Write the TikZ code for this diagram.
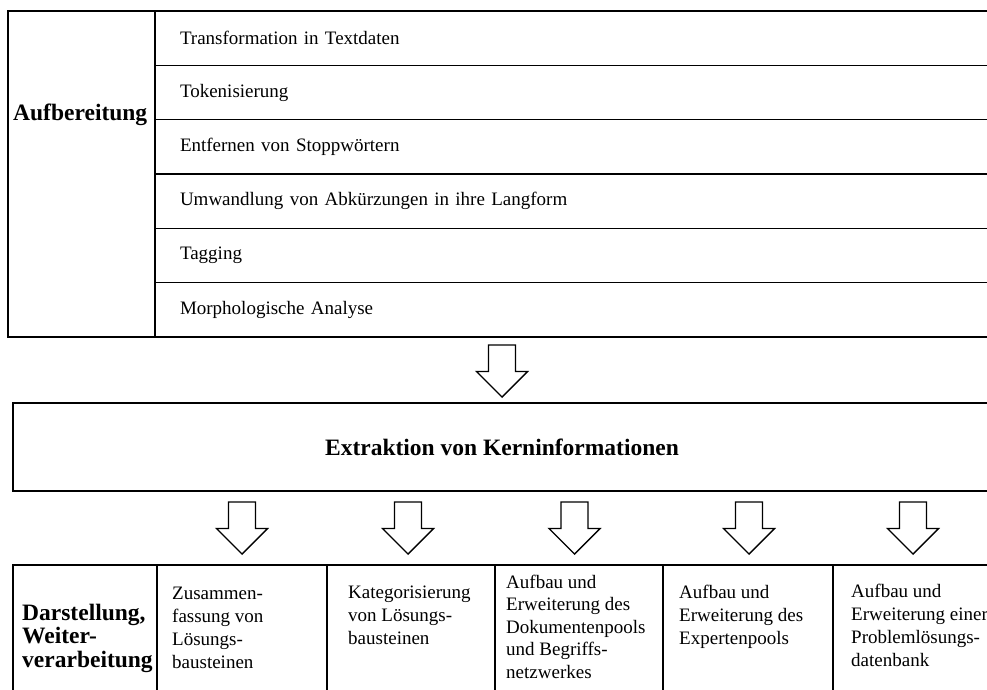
\documentclass[tikz,border=0pt]{standalone}
\usepackage{fontspec}
\setmainfont{Liberation Serif}
\usetikzlibrary{positioning}
\tikzset{
  frame/.style={draw, line width=1.4pt, inner sep=0pt, outer sep=0pt},
  rowbox/.style={frame, anchor=north west, minimum width=841pt, minimum height=54.33pt,
    text width=791pt, inner xsep=25pt, align=left, font=\fontsize{19}{23}\selectfont},
  colbox/.style={frame, minimum height=140pt},
  coltext/.style={anchor=base west, align=left, inner sep=0pt, font=\fontsize{19}{23}\selectfont},
  headtext/.style={inner sep=0pt, font=\fontsize{23.5}{23.5}\selectfont\bfseries},
  blockarrow/.style={draw, line width=1.4pt, fill=white, line join=miter},
}
\newcommand{\hollowarrow}[3]{% centre x, shaft top, tip
  \draw[blockarrow] (#1-13.5,#2) -- (#1+13.5,#2) -- (#1+13.5,#3-25.5) -- (#1+25.5,#3-25.5)
    -- (#1,#3) -- (#1-25.5,#3-25.5) -- (#1-13.5,#3-25.5) -- cycle;}

\begin{document}
\begin{tikzpicture}[x=1pt,y=-1pt]
  \useasboundingbox (0,0) rectangle (987,689);

  % preparation block
  \node[frame, anchor=north west, minimum width=147pt, minimum height=326pt] (prep) at (8,11) {};
  \node[headtext, anchor=base west] (preplabel) at (13,120) {Aufbereitung};
  \foreach \txt [count=\i] in {Transformation in Textdaten, Tokenisierung,
      Entfernen von Stoppwörtern, Umwandlung von Abkürzungen in ihre Langform,
      Tagging, Morphologische Analyse}
    \node[rowbox] (row\i) at (155,{11+(\i-1)*54.33}) {\txt};

  \hollowarrow{502}{345}{397}

  % extraction
  \node[frame, headtext, anchor=north west, minimum width=978pt, minimum height=88pt] (extr)
    at (13,403) {Extraktion von Kerninformationen};

  \foreach \x in {242,408,574.5,749,913}{
    \hollowarrow{\x}{502}{554}
  }

  % output columns
  \node[colbox, anchor=north west, minimum width=144pt] (out0) at (13,565) {};
  \node[colbox, minimum width=170pt, right=0pt of out0] (out1) {};
  \node[colbox, minimum width=168pt, right=0pt of out1] (out2) {};
  \node[colbox, minimum width=168pt, right=0pt of out2] (out3) {};
  \node[colbox, minimum width=170pt, right=0pt of out3] (out4) {};
  \node[colbox, minimum width=158pt, right=0pt of out4] (out5) {};

  % texts placed by their last baseline
  \node[coltext, headtext] (outlabel) at (22,667) {Darstellung,\\Weiter-\\verarbeitung};
  \node[coltext] (txt1) at (172,668) {Zusammen-\\fassung von\\Lösungs-\\bausteinen};
  \node[coltext] (txt2) at (348,644) {Kategorisierung\\von Lösungs-\\bausteinen};
  \node[coltext, font=\fontsize{19}{22.5}\selectfont] (txt3) at (506,678) {Aufbau und\\Erweiterung des\\Dokumentenpools\\und Begriffs-\\netzwerkes};
  \node[coltext] (txt4) at (679,644) {Aufbau und\\Erweiterung des\\Expertenpools};
  \node[coltext] (txt5) at (851,666) {Aufbau und\\Erweiterung einer\\Problemlösungs-\\datenbank};
\end{tikzpicture}
\end{document}
